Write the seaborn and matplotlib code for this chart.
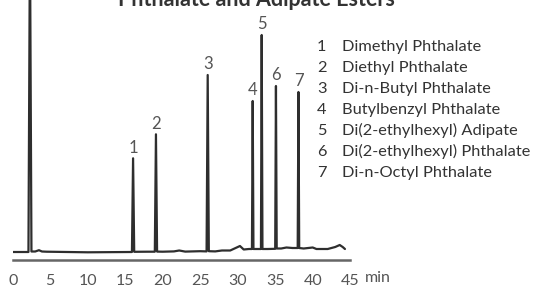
import matplotlib.pyplot as plt
import seaborn as sns
import numpy as np

# chromatogram trace (time in min, signal above baseline)
times = [0.0, 2.1, 2.3, 2.5, 3.0, 3.5, 3.9, 4.5, 10.0, 15.9, 16.05, 16.2,
         18.0, 18.95, 19.1, 19.25, 20.0, 21.5, 22.2, 23.0, 25.0, 25.85, 26.0,
         26.15, 27.0, 27.9, 29.0, 30.3, 30.8, 31.5, 31.9, 32.0, 32.1, 32.6,
         33.1, 33.2, 33.3, 34.0, 35.0, 35.1, 35.2, 35.8, 36.5, 37.3, 38.0,
         38.1, 38.2, 38.8, 40.0, 40.5, 42.0, 43.0, 43.6, 44.0, 44.3]
signal = [0.0, 0.0, 320.0, 0.5, 0.5, 1.8, 0.5, 0.3, -0.3, 0.0, 93.7, 0.2,
          0.3, 0.3, 117.7, 0.4, 0.3, 0.6, 1.5, 0.4, 0.8, 0.6, 177.0,
          0.8, 0.6, 1.5, 1.5, 6.0, 2.5, 3.0, 3.0, 151.0, 3.0, 3.0,
          3.0, 217.0, 3.0, 3.0, 3.2, 166.0, 3.5, 3.5, 4.5, 4.0, 4.0,
          160.0, 4.0, 3.5, 4.5, 3.0, 3.0, 5.0, 7.0, 5.0, 3.0]

peak_ids = ["1", "2", "3", "4", "5", "6", "7"]
peak_times = [16.05, 19.1, 26.0, 32.0, 33.2, 35.1, 38.1]
peak_heights = [93.7, 117.7, 177.0, 151.0, 217.0, 166.0, 160.0]
compounds = ["Dimethyl Phthalate", "Diethyl Phthalate", "Di-n-Butyl Phthalate",
             "Butylbenzyl Phthalate", "Di(2-ethylhexyl) Adipate",
             "Di(2-ethylhexyl) Phthalate", "Di-n-Octyl Phthalate"]
xticks = [0, 5, 10, 15, 20, 25, 30, 35, 40, 45]

sns.set_style("white")
plt.rcParams["font.family"] = ["Lato", "DejaVu Sans"]

W, H = 538, 287
fig = plt.figure(figsize=(W / 100, H / 100), dpi=100)
ax = fig.add_axes([12.7 / W, (H - 260) / H, 337.5 / W, 260 / H])

sns.lineplot(x=times, y=signal, ax=ax, color="#2e2e2e", lw=1.6,
             estimator=None, sort=False)

for pid, t, h in zip(peak_ids, peak_times, peak_heights):
    ax.annotate(pid, (t, h), xytext=(0, 2), textcoords="offset points",
                ha="center", va="bottom", fontsize=12, color="#555555")

ax.set_xlim(0, 45)
ax.set_ylim(-8, 252)
ax.set_xticks(xticks)
ax.set_xticklabels([str(v) for v in xticks])
ax.set_xticks([0, 45], minor=True)
ax.set_yticks([])
sns.despine(ax=ax, left=True)
ax.spines["bottom"].set_color("#666666")
ax.spines["bottom"].set_linewidth(1.8)
ax.tick_params(axis="x", which="major", direction="out", length=8, width=1.4,
               color="#666666", labelsize=11.5, labelcolor="#555555", pad=2)
ax.tick_params(axis="x", which="minor", direction="in", length=3, width=1.4,
               color="#666666")
ax.text(47.0, -18.5, "min", fontsize=11.5, color="#555555", ha="left",
        va="top", clip_on=False)

# compound list on the right
for i, (pid, name) in enumerate(zip(peak_ids, compounds)):
    y = 1 - (46.7 + 21 * i) / H
    fig.text(321.7 / W, y, pid, ha="center", va="center", fontsize=11.8,
             color="#333333")
    fig.text(341.7 / W, y, name, ha="left", va="center", fontsize=11.8,
             color="#333333")

fig.text(256 / W, 1 - 6 / H, "Phthalate and Adipate Esters", ha="center",
         va="baseline", fontsize=15.5, fontweight="bold", color="#333333")

fig.savefig("out.png", dpi=100)
